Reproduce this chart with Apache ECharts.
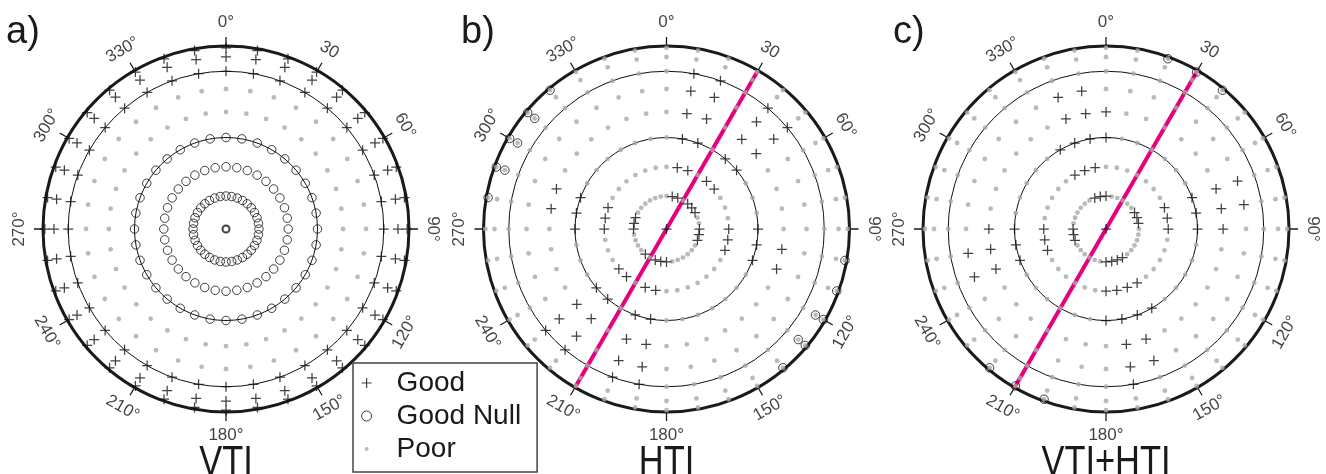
<!DOCTYPE html>
<html>
<head>
<meta charset="utf-8">
<script src="https://cdn.jsdelivr.net/npm/echarts@6/dist/echarts.min.js"></script>
<style>
html,body{margin:0;padding:0;background:#fff;}
#chart{width:1326px;height:474px;}
</style>
</head>
<body>
<div id="chart"></div>
<script>
// ---------- data ----------
const azimuths = [0,10,20,30,40,50,60,70,80,90,100,110,120,130,140,150,160,170,
                  180,190,200,210,220,230,240,250,260,270,280,290,300,310,320,330,340,350];
const incidence = [10,20,30,40,50,60,70,80];
// radial position of each incidence ring, as a fraction of the outer circle
const ringRadius = [0.18,0.34,0.5,0.64,0.765,0.862,0.94,0.99];
const guideRings = [0.5,0.862];
const angleTicks = [0,30,60,90,120,150,180,210,240,270,300,330];
const angleLabels = ['0°','30','60°','90°','120°','150°','180°','210°','240°','270°','300°','330°'];
const panelLetters = ['a)','b)','c)'];
const panelTitles = ['VTI','HTI','VTI+HTI'];
const seriesNames = ['Good','Good Null','Poor'];
const centerClass = ['Good Null','Good','Good'];
const fastAzimuth = [null,30,30];

// panel a) VTI  (per incidence ring: azimuths that are Good / Good Null)
const vtiGood = [[],[],[],[],[],azimuths,azimuths,azimuths];
const vtiNull = [azimuths,azimuths,azimuths,[],[],[],[],[]];
// panel b) HTI
const htiGood = [
  [10,20,40,50,60,90,100,110,180,190,200,220,270,280,290],
  [10,20,40,50,90,100,110,190,200,220,230,270,280,290],
  [10,20,40,50,90,100,110,190,200,220,230,270,280,290],
  [10,20,40,50,100,110,190,200,220,230,280,290],
  [10,20,40,50,190,200,220,230],
  [10,20,40,50,190,200,220,230],
  [],
  []
];
const htiNull = [[],[],[],[],[],[],
  [120,130,290,300,310],
  [100,110,120,130,140,280,290,300,310,320]];
// panel c) VTI+HTI
const jointGood = [
  [0,60,70,80,150,160,170,180,250,260,270,340,350],
  [70,80,90,150,160,170,180,250,260,270,330,340,350],
  [0,70,80,90,150,160,170,180,250,260,270,330,340,350],
  [0,70,80,90,160,170,250,260,270,340,350],
  [70,80,160,170,250,260,340,350],
  [170],
  [],
  []
];
const jointNull = [[],[],[],[],[],[],[],[20,30,40,200,210,220]];

const panelGood = [vtiGood, htiGood, jointGood];
const panelNull = [vtiNull, htiNull, jointNull];

// ---------- layout / style ----------
const centersX = [226, 666.5, 1106];
const centerY = 229;
const R = 183;
const letterLeft = [6, 461, 893];
const titleTop = 442;
const grayUnderNull = [false, true, true];
const labelRadius = 1.13;
const lineExtent = 1.08;
const INK = '#1a1a1a';
const FONT = 'Liberation Sans, Arial, sans-serif';
const PLUS = 'path://M0,5H10M5,0V10';
const DOT = 'path://M0,0M10,10M3,5A2,2,0,1,0,7,5A2,2,0,1,0,3,5Z';

function labelRotate(a){ return a <= 90 ? -a : (a < 270 ? 180 - a : 360 - a); }

const polar = [], angleAxis = [], radiusAxis = [], series = [], title = [], graphic = [];

centersX.forEach((cx, p) => {
  polar.push({ center: [cx, centerY], radius: R });
  angleAxis.push({
    polarIndex: p, type: 'value', min: 0, max: 360, interval: 30,
    startAngle: 90, clockwise: true,
    axisLine: { show: true, lineStyle: { color: INK, width: 3 } },
    axisTick: { show: true, inside: false, length: 9, lineStyle: { color: INK, width: 1.3 } },
    axisLabel: { show: false }, splitLine: { show: false }
  });
  radiusAxis.push({
    polarIndex: p, type: 'value', min: 0, max: 1,
    axisLine: { show: false }, axisLabel: { show: false },
    axisTick: { show: false, customValues: guideRings },
    splitLine: { show: true, lineStyle: { color: '#111', width: 1 } }
  });

  const good = [], nul = [], poor = [];
  ringRadius.forEach((r, i) => {
    azimuths.forEach(az => {
      if (panelGood[p][i].includes(az)) good.push([r, az]);
      else if (panelNull[p][i].includes(az)) {
        nul.push([r, az]);
        if (grayUnderNull[p]) poor.push([r, az]);
      } else poor.push([r, az]);
    });
  });
  if (centerClass[p] === 'Good') good.push([0, 0]);
  else nul.push({ value: [0, 0], symbolSize: 7, itemStyle: { borderWidth: 2 } });

  if (fastAzimuth[p] !== null) {
    series.push({
      name: 'fast', type: 'line', coordinateSystem: 'polar', polarIndex: p,
      data: [[lineExtent, fastAzimuth[p]], [lineExtent, fastAzimuth[p] + 180]],
      symbol: 'none', clip: false, silent: true, z: 1,
      lineStyle: { color: '#e6007e', width: 4 }
    });
  }
  series.push({
    name: 'Poor', type: 'scatter', coordinateSystem: 'polar', polarIndex: p,
    data: poor, symbol: 'circle', symbolSize: 4.8, clip: false, silent: true, z: 3,
    itemStyle: { color: '#a9a9a9' }
  });
  series.push({
    name: 'Good', type: 'scatter', coordinateSystem: 'polar', polarIndex: p,
    data: good, symbol: PLUS, symbolSize: 10, clip: false, silent: true, z: 4,
    itemStyle: { color: 'transparent', borderColor: '#111', borderWidth: 1.25 }
  });
  series.push({
    name: 'Good Null', type: 'scatter', coordinateSystem: 'polar', polarIndex: p,
    data: nul, symbol: 'circle', symbolSize: 8.5, clip: false, silent: true, z: 5,
    itemStyle: { color: 'transparent', borderColor: '#111', borderWidth: 1 }
  });
  series.push({
    name: 'azimuth labels', type: 'scatter', coordinateSystem: 'polar', polarIndex: p,
    data: angleTicks.map((a, k) => ({ value: [labelRadius, a],
      label: { rotate: labelRotate(a), formatter: angleLabels[k] } })),
    symbolSize: 0, clip: false, silent: true, z: 6,
    label: { show: true, position: 'inside', color: '#111', fontSize: 17, textBorderWidth: 0,
             fontFamily: FONT, align: 'center', verticalAlign: 'middle' }
  });

  title.push({ text: panelLetters[p], left: letterLeft[p], top: 14, padding: 0,
    textStyle: { fontSize: 38, fontWeight: 'normal', color: INK, fontFamily: FONT } });
  graphic.push({
    type: 'text', x: cx, y: titleTop, scaleX: 0.82, silent: true,
    style: { text: panelTitles[p], fontSize: 42, fontFamily: FONT, fill: INK,
             align: 'center', verticalAlign: 'top' }
  });
});

const chart = echarts.init(document.getElementById('chart'), null, { renderer: 'canvas' });
chart.setOption({
  animation: false,
  backgroundColor: '#fff',
  title: title,
  graphic: graphic,
  polar: polar,
  angleAxis: angleAxis,
  radiusAxis: radiusAxis,
  legend: {
    orient: 'vertical', left: 353, top: 363, height: 200,
    padding: [6, 16, 9, 8], itemGap: 5, itemWidth: 16, itemHeight: 10,
    borderColor: '#444', borderWidth: 1.5, selectedMode: false,
    textStyle: { fontSize: 28, color: INK, fontFamily: FONT,
                 lineHeight: 26, padding: [0, 0, 0, 17] },
    data: [
      { name: seriesNames[0], icon: PLUS, itemStyle: { color: 'transparent', borderColor: '#111', borderWidth: 1.2 } },
      { name: seriesNames[1], icon: 'circle', itemStyle: { color: 'transparent', borderColor: '#111', borderWidth: 1 } },
      { name: seriesNames[2], icon: DOT, itemStyle: { color: '#a9a9a9', borderWidth: 0 } }
    ]
  },
  series: series
});
</script>
</body>
</html>
